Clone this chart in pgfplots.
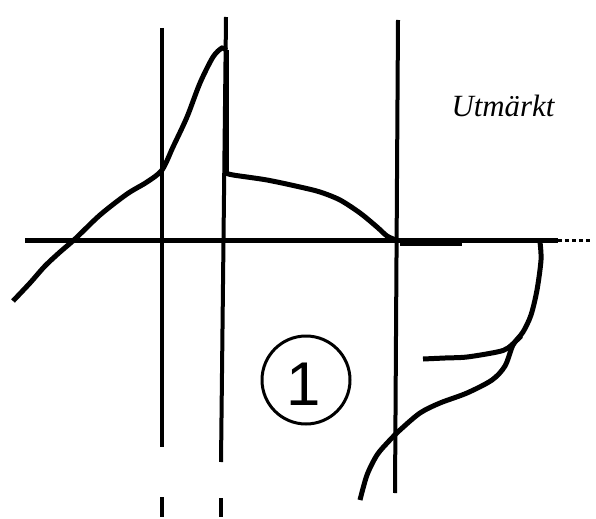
\documentclass[border=0pt]{standalone}
\usepackage{fontspec}
\setmainfont{Liberation Serif}
\newfontfamily\digitfont{Liberation Sans}
\usepackage{pgfplots}
\pgfplotsset{compat=1.18}

\begin{document}
\begin{tikzpicture}
  \begin{axis}[
      scale only axis,
      width=596bp, height=517bp,
      xmin=0, xmax=596, ymin=0, ymax=517,
      y dir=reverse,
      axis lines=none,
      clip=false,
    ]
    % frame (invisible) so the page keeps the full size
    \addplot[draw=none] coordinates {(0,0) (596,517)};

    % horizontal base line
    \addplot[black, line width=5bp] coordinates {(25,240) (558,240)};
    \addplot[black, line width=3bp, dash pattern=on 4bp off 3bp] coordinates {(558,240) (592,240)};
    \addplot[black, line width=5bp] coordinates {(400,243) (462,243)};

    % vertical lines
    \addplot[black, line width=4bp] coordinates {(162,28) (162,447)};
    \addplot[black, line width=4bp] coordinates {(162,497) (162,517)};
    \addplot[black, line width=4bp] coordinates {(226,17) (221,462)};
    \addplot[black, line width=4bp] coordinates {(221,498) (221,517)};
    \addplot[black, line width=4bp] coordinates {(398,20) (395,493)};

    % left curve rising to the peak
    \addplot[black, line width=5bp, smooth, tension=0.5] coordinates {
      (13,301) (30,283) (45,266) (60,252) (75,239) (100,215)
      (127,194) (147,182) (162,170) (173,147) (187,117) (200,83)
      (213,57) (222,48) (226,50)
    };
    % drop along the second line
    \addplot[black, line width=5bp] coordinates {(226,50) (226,173)};
    % falling branch to the third line
    \addplot[black, line width=5bp, smooth, tension=0.5] coordinates {
      (226,173) (233,175) (267,180) (300,187) (320,192) (340,200)
      (360,213) (377,227) (387,236) (396,240)
    };

    % right curve below the axis
    \addplot[black, line width=5bp, smooth, tension=0.5] coordinates {
      (540,242) (541,260) (537,290) (531,315) (523,332) (513,345)
      (505,366) (492,380) (467,393) (440,403) (420,413) (400,430)
      (389,441) (377,455) (367,475) (360,500)
    };
    \addplot[black, line width=5bp, smooth, tension=0.5] coordinates {
      (521,336) (508,348) (497,352) (467,357) (445,358) (423,359)
    };

    % circled one
    \draw[black, line width=3bp] (axis cs:306,380) circle[radius=44bp];
    \node[font=\digitfont\fontsize{62}{66}\selectfont] at (axis cs:304,384) {1};

    \node[font=\itshape\fontsize{31}{35}\selectfont] at (axis cs:503,106) {Utmärkt};
  \end{axis}
\end{tikzpicture}
\end{document}
